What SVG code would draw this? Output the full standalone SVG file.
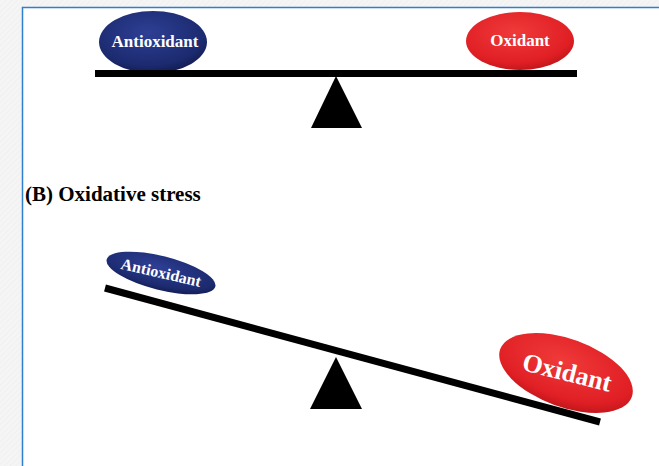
<svg xmlns="http://www.w3.org/2000/svg" width="659" height="466" viewBox="0 0 659 466">
<style>
.lbl{font-family:"Liberation Serif","Times New Roman",serif;font-weight:bold;fill:#fff;text-anchor:middle}
.bar{stroke:#000;stroke-linecap:butt}
</style>
<defs>
<radialGradient id="gBlue" cx="0.45" cy="0.35" r="0.7">
<stop offset="0" stop-color="#2e3f95"/><stop offset="0.75" stop-color="#1c2a6f"/><stop offset="1" stop-color="#111a4d"/>
</radialGradient>
<radialGradient id="gRed" cx="0.45" cy="0.35" r="0.7">
<stop offset="0" stop-color="#f03a3a"/><stop offset="0.75" stop-color="#e01f24"/><stop offset="1" stop-color="#b8141a"/>
</radialGradient>
<pattern id="hatch" width="4" height="4" patternUnits="userSpaceOnUse" patternTransform="rotate(45)">
<rect width="4" height="4" fill="#f5f5f5"/><line x1="0" y1="0" x2="0" y2="4" stroke="#ebebeb" stroke-width="1"/>
</pattern>
</defs>
<rect width="659" height="466" fill="url(#hatch)"/>
<rect x="22.5" y="7.5" width="650" height="470" fill="#fff" stroke="#2f7fd0" stroke-width="1.5"/>
<g id="balanceA">
<g id="antioxidantA">
<ellipse cx="153" cy="42" rx="54" ry="31" fill="url(#gBlue)"/>
<text class="lbl" x="155" y="46.5" font-size="17">Antioxidant</text>
</g>
<g id="oxidantA">
<ellipse cx="520" cy="41" rx="54" ry="29" fill="url(#gRed)"/>
<text class="lbl" x="520" y="46" font-size="17">Oxidant</text>
</g>
<g id="beamA">
<line class="bar" x1="95" y1="73.5" x2="577" y2="73.5" stroke-width="7"/>
<polygon points="336,76 311,128 362,128" fill="#000"/>
</g>
</g>
<text x="25" y="201" font-family="'Liberation Serif','Times New Roman',serif" font-weight="bold" font-size="21" fill="#000">(B) Oxidative stress</text>
<g id="balanceB">
<g id="beamB">
<line class="bar" x1="105" y1="288" x2="600" y2="422" stroke-width="7"/>
<polygon points="336,357 310,409 362,409" fill="#000"/>
</g>
<g id="antioxidantB">
<ellipse cx="161" cy="273" rx="56" ry="17" transform="rotate(14 161 273)" fill="url(#gBlue)"/>
<text class="lbl" x="161" y="278" font-size="16" transform="rotate(13 161 273)">Antioxidant</text>
</g>
<g id="oxidantB">
<ellipse cx="566" cy="373" rx="70" ry="34" transform="rotate(20 566 373)" fill="url(#gRed)"/>
<text class="lbl" x="567" y="381" font-size="26" transform="rotate(14 567 373)">Oxidant</text>
</g>
</g>
</svg>
